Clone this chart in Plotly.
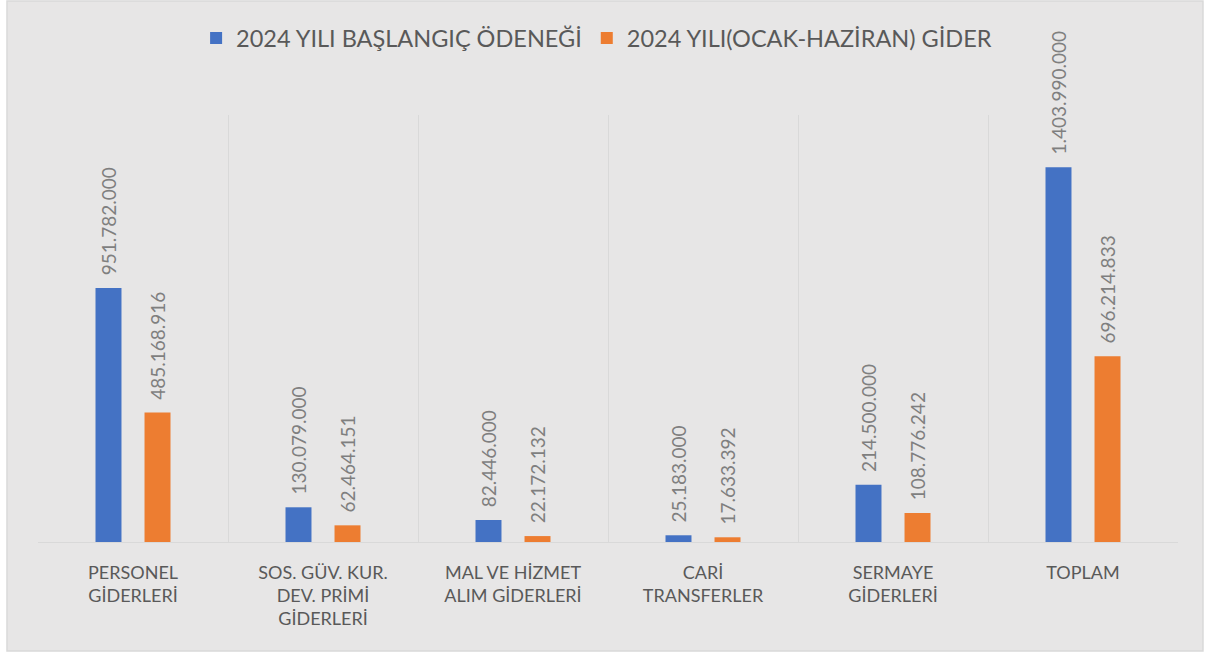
import plotly.graph_objects as go

categories = ["PERSONEL<br>GİDERLERİ", "SOS. GÜV. KUR.<br>DEV. PRİMİ<br>GİDERLERİ",
              "MAL VE HİZMET<br>ALIM GİDERLERİ", "CARİ<br>TRANSFERLER",
              "SERMAYE<br>GİDERLERİ", "TOPLAM"]
baslangic = [951782000, 130079000, 82446000, 25183000, 214500000, 1403990000]
gider = [485168916, 62464151, 22172132, 17633392, 108776242, 696214833]
series_names = ["2024 YILI BAŞLANGIÇ ÖDENEĞİ", "2024 YILI(OCAK-HAZİRAN) GİDER"]

BG = "#e7e6e6"
label_font = dict(family="Lato", size=19, color="#7f7f7f")

fig = go.Figure()
for name, vals, col in [(series_names[0], baslangic, "#4472c4"),
                        (series_names[1], gider, "#ed7d31")]:
    fig.add_trace(go.Bar(x=categories, y=vals, name=name, marker_color=col,
                         marker_line_width=0,
                         texttemplate="\u00a0\u00a0%{y:,}", textposition="outside",
                         textangle=-90, textfont=label_font, constraintext="none",
                         cliponaxis=False))

# chart frame
fig.add_shape(type="rect", xref="paper", yref="paper",
              x0=-0.0272, x1=1.0219, y0=-0.2553, y1=1.267,
              fillcolor=BG, line=dict(color="#d9d9d9", width=1.5), layer="below")

fig.update_layout(
    width=1206, height=653,
    margin=dict(l=38, r=28, t=115, b=111),
    paper_bgcolor="white", plot_bgcolor="rgba(0,0,0,0)",
    separators=",.",
    barmode="group", bargap=0.484, bargroupgap=0.47,
    font=dict(family="Lato", color="#595959"),
    showlegend=True,
    legend=dict(orientation="h", x=0.49, xanchor="center", y=1.18, yanchor="middle",
                font=dict(size=23.5, color="#595959"), bgcolor="rgba(0,0,0,0)",
                itemclick=False),
    xaxis=dict(tickson="boundaries", showgrid=True, gridcolor="#d9d9d9", gridwidth=1,
               showline=True, linecolor="#d9d9d9", linewidth=1, ticks="",
               tickfont=dict(size=18, color="#595959"), ticklabelstandoff=14),
    yaxis=dict(range=[0, 1600000000], visible=False, showgrid=False),
)

# drop the default page margin so the 1206x653 figure fills the window exactly
fig.write_html("out.html", config={"displayModeBar": False},
               post_script="document.body.style.margin='0';")
